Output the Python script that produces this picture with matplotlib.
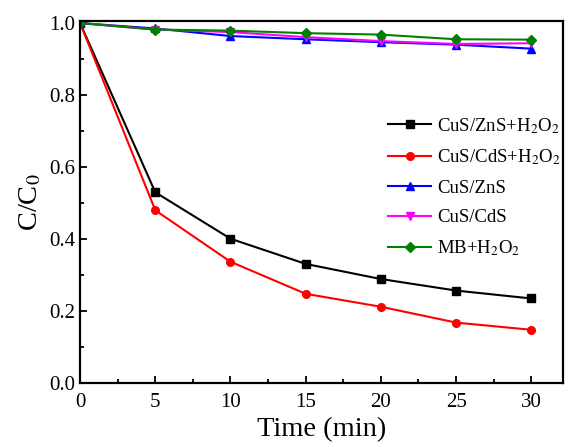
import numpy as np
import matplotlib.pyplot as plt
from matplotlib.ticker import MultipleLocator

plt.rcParams['font.family'] = 'Liberation Serif'
plt.rcParams['mathtext.fontset'] = 'stix'

time = [0, 5, 10, 15, 20, 25, 30]
cus_zns_h2o2 = [1.0, 0.530, 0.401, 0.331, 0.289, 0.257, 0.235]
cus_cds_h2o2 = [1.0, 0.480, 0.337, 0.248, 0.212, 0.168, 0.148]
cus_zns = [1.0, 0.985, 0.964, 0.955, 0.947, 0.940, 0.929]
cus_cds = [1.0, 0.982, 0.975, 0.961, 0.950, 0.942, 0.944]
mb_h2o2 = [1.0, 0.982, 0.979, 0.972, 0.968, 0.955, 0.954]

series = [
    (cus_zns_h2o2, 'k', 's', r'CuS/ZnS+H$_2$O$_2$'),
    (cus_cds_h2o2, 'r', 'o', r'CuS/CdS+H$_2$O$_2$'),
    (cus_zns, 'b', '^', 'CuS/ZnS'),
    (cus_cds, 'magenta', 'v', 'CuS/CdS'),
    (mb_h2o2, 'green', 'D', r'MB+H$_2$O$_2$'),
]

fig = plt.figure(figsize=(5.68, 4.47), dpi=100)
ax = fig.add_axes([0.141, 0.143, 0.850, 0.811])

for vals, c, m, lab in series:
    ms = 5 if m == 'D' else 5.5
    ax.plot(time, vals, color=c, marker=m, markersize=ms, linewidth=1.5, label=lab)

ax.set_xlim(0, 32.1)
ax.set_ylim(0, 1.007)
ax.xaxis.set_major_locator(MultipleLocator(5))
ax.xaxis.set_minor_locator(MultipleLocator(2.5))
ax.yaxis.set_major_locator(MultipleLocator(0.2))
ax.yaxis.set_minor_locator(MultipleLocator(0.1))
ax.yaxis.set_major_formatter(plt.FormatStrFormatter('%.1f'))
ax.tick_params(which='both', direction='in', top=False, right=False, labelsize=15)
ax.tick_params(axis='x', pad=7)
ax.tick_params(which='major', length=5, width=1.3)
ax.tick_params(which='minor', length=3, width=1.3)
for s in ax.spines.values():
    s.set_linewidth(1.6)

ax.set_xlabel('Time (min)', fontsize=20.5, labelpad=4)
ax.set_ylabel(r'C/C$_0$', fontsize=20.5, labelpad=4)

ax.legend(loc='center left', bbox_to_anchor=(0.638, 0.541), frameon=False,
          borderpad=0, borderaxespad=0,
          fontsize=13.5, handlelength=2.3, labelspacing=0.65, handletextpad=0.3)

fig.savefig('out.png', dpi=100)
